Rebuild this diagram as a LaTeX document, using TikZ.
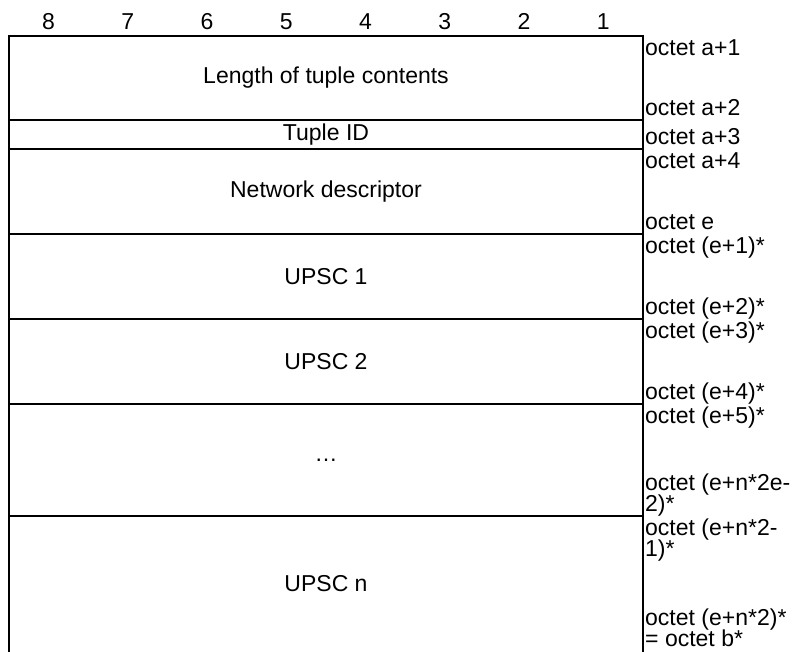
\documentclass[tikz,border=0pt]{standalone}
\usepackage{fontspec}
\setmainfont{Liberation Sans}
\begin{document}
\begin{tikzpicture}[x=1pt,y=-1pt,
  txt/.style={font=\fontsize{23}{24}\selectfont, inner sep=0pt},
  lbl/.style={txt, anchor=base west},
  frame/.style={line width=1.8pt, line cap=rect}]
\useasboundingbox (0,0) rectangle (800,651);
% corner coordinates
\coordinate (tl) at (9,36);
\coordinate (tr) at (643,36);
\coordinate (bl) at (9,651);
\coordinate (br) at (643,651);
\foreach \y [count=\i] in {120,149,234,319,404,516}{
  \coordinate (l\i) at (9,\y);
  \coordinate (r\i) at (643,\y);
}
% frame
\draw[frame] (bl) -- (tl) -- (tr) -- (br);
\foreach \i in {1,...,6}{ \draw[frame] (l\i) -- (r\i); }
% bit numbers
\foreach \b [count=\k] in {8,7,6,5,4,3,2,1}{
  \node[txt, anchor=base] (bit\b) at ({9+79.25*(\k-0.5)},29) {\b};
}
% cell contents
\node[txt] (len) at (326,78) {Length of tuple contents};
\node[txt] (tid) at (326,134.5) {Tuple ID};
\node[txt] (net) at (326,191.5) {Network descriptor};
\node[txt] (u1) at (326,276.5) {UPSC 1};
\node[txt] (u2) at (326,361.5) {UPSC 2};
\node[txt] (dots) at (326,460) {…};
\node[txt] (un) at (326,583.5) {UPSC n};
% octet labels
\node[lbl] (o1) at (645,55) {octet a+1};
\node[lbl] (o2) at (645,115) {octet a+2};
\node[lbl] (o3) at (645,144) {octet a+3};
\node[lbl] (o4) at (645,168) {octet a+4};
\node[lbl] (o5) at (645,229) {octet e};
\node[lbl] (o6) at (645,253) {octet (e+1)*};
\node[lbl] (o7) at (645,314) {octet (e+2)*};
\node[lbl] (o8) at (645,338) {octet (e+3)*};
\node[lbl] (o9) at (645,399) {octet (e+4)*};
\node[lbl] (o10) at (645,423) {octet (e+5)*};
\node[lbl] (o11a) at (645,490) {octet (e+n*2e-};
\node[lbl] (o11b) at (645,511) {2)*};
\node[lbl] (o12a) at (645,535) {octet (e+n*2-};
\node[lbl] (o12b) at (645,556) {1)*};
\node[lbl] (o13a) at (645,625) {octet (e+n*2)*};
\node[lbl] (o13b) at (645,646) {= octet b*};
\end{tikzpicture}
\end{document}
